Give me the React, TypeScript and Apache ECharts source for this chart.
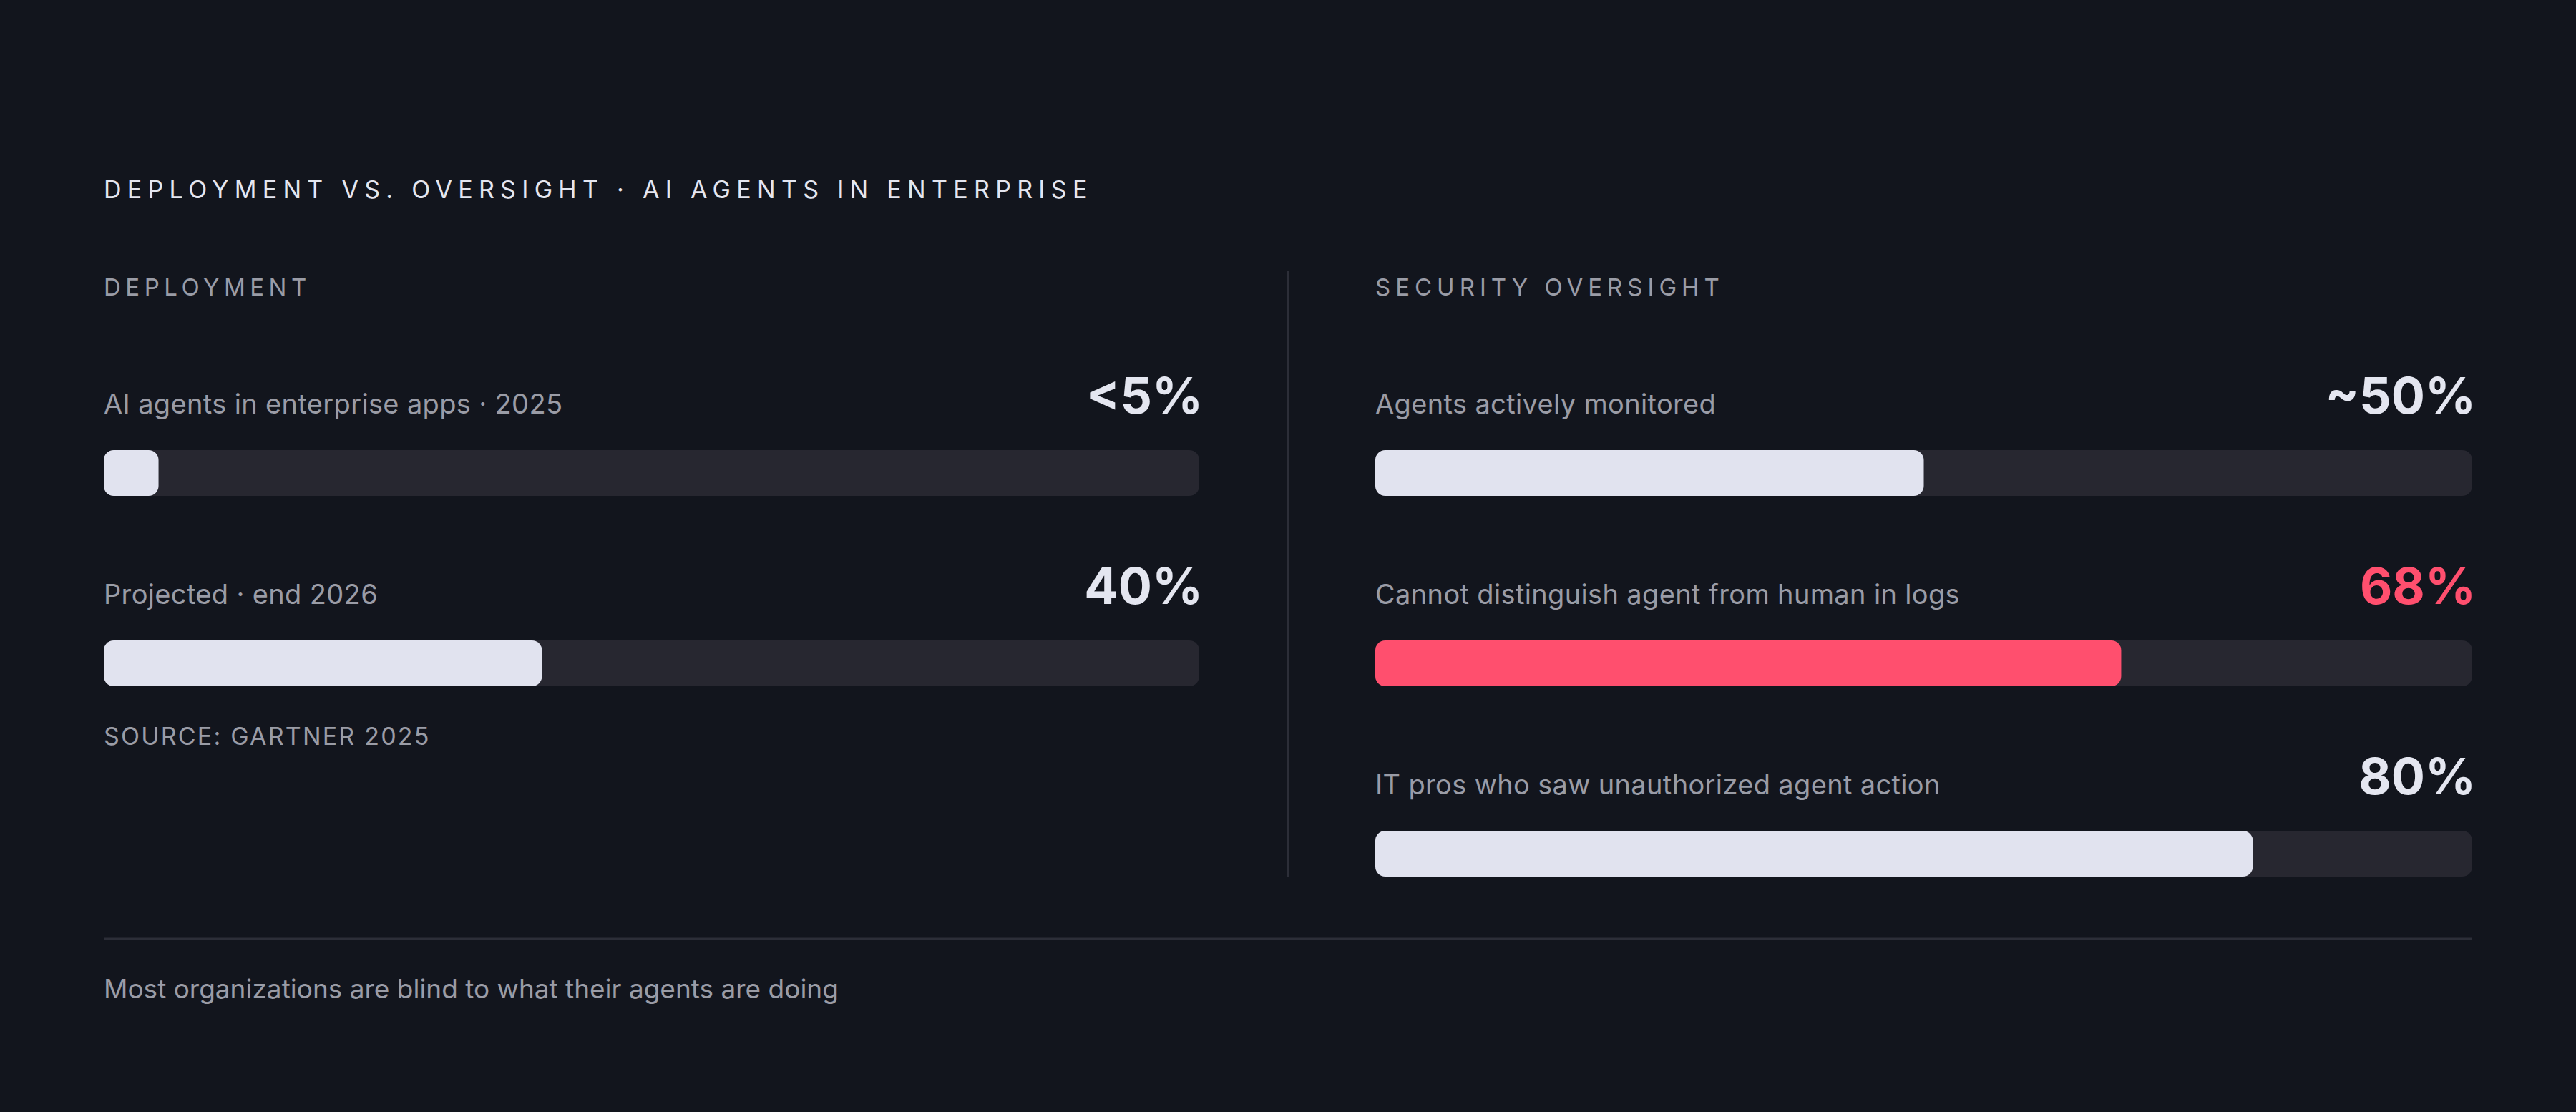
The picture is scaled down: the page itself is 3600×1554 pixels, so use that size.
import React, { useEffect, useRef } from 'react';
import * as echarts from 'echarts';

// ---- data ----
const deployCats = ['AI agents in enterprise apps · 2025', 'Projected · end 2026'];
const deployValues = [5, 40];
const deployLabels = ['<5%', '40%'];

const oversightCats = [
  'Agents actively monitored',
  'Cannot distinguish agent from human in logs',
  'IT pros who saw unauthorized agent action',
];
const oversightValues = [50, 68, 80];
const oversightLabels = ['~50%', '68%', '80%'];
const oversightAlert = [false, true, false];

const TITLE = 'DEPLOYMENT VS. OVERSIGHT · AI AGENTS IN ENTERPRISE';
const LEFT_HEAD = 'DEPLOYMENT';
const RIGHT_HEAD = 'SECURITY OVERSIGHT';
const SOURCE = 'SOURCE: GARTNER 2025';
const FOOTER = 'Most organizations are blind to what their agents are doing';

// ---- styles ----
const BG = '#12151d';
const TRACK = '#272730';
const FILL = '#e1e3ef';
const RED = '#ff4f6e';
const MUTED = '#9a9ca6';
const BRIGHT = '#e4e6f0';
const RULE = '#2c2e38';
const FONT = 'Inter, Roboto, sans-serif';

// svg text letter spacing, applied after render
const spacing: Record<string, string> = {
  [TITLE]: '8.3px',
  [LEFT_HEAD]: '6.5px',
  [RIGHT_HEAD]: '7px',
  [SOURCE]: '2.2px',
};
[...deployCats, ...oversightCats].forEach((c) => (spacing[c] = '0.35px'));

const barSeries = (
  idx: number,
  cats: string[],
  values: number[],
  labels: string[],
  alert: boolean[],
) => [
  {
    type: 'bar',
    xAxisIndex: idx,
    yAxisIndex: idx,
    barWidth: 64,
    barGap: '-100%',
    showBackground: true,
    backgroundStyle: { color: TRACK, borderRadius: 14 },
    itemStyle: { borderRadius: 14 },
    data: values.map((v, i) => ({ value: v, itemStyle: { color: alert[i] ? RED : FILL } })),
    z: 2,
  },
  {
    type: 'bar',
    xAxisIndex: idx,
    yAxisIndex: idx,
    barWidth: 64,
    barGap: '-100%',
    silent: true,
    itemStyle: { color: 'rgba(0,0,0,0)' },
    data: cats.map(() => 100),
    label: {
      show: true,
      position: [0, -65],
      align: 'left',
      verticalAlign: 'middle',
      formatter: (p: any) => cats[p.dataIndex],
      fontFamily: FONT,
      fontSize: 38,
      color: MUTED,
    },
    z: 3,
  },
  {
    type: 'bar',
    xAxisIndex: idx,
    yAxisIndex: idx,
    barWidth: 64,
    barGap: '-100%',
    silent: true,
    itemStyle: { color: 'rgba(0,0,0,0)' },
    data: labels.map((_, i) => ({
      value: 100,
      label: { color: alert[i] ? RED : BRIGHT },
    })),
    label: {
      show: true,
      position: ['100%', -77],
      offset: [5, 0],
      align: 'right',
      verticalAlign: 'middle',
      formatter: (p: any) => labels[p.dataIndex],
      fontFamily: FONT,
      fontSize: 70,
      fontWeight: 700,
    },
    z: 3,
  },
];

const App: React.FC = () => {
  const chartRef = useRef<HTMLDivElement>(null);

  useEffect(() => {
    if (!chartRef.current) return;
    document.body.style.margin = '0';
    const chart = echarts.init(chartRef.current, null, { renderer: 'svg' });

    const option: any = {
      animation: false,
      backgroundColor: BG,
      grid: [
        { left: 145, top: 528, width: 1531, height: 532 },
        { left: 1922, top: 528, width: 1533, height: 798 },
      ],
      xAxis: [
        { type: 'value', gridIndex: 0, min: 0, max: 100, show: false },
        { type: 'value', gridIndex: 1, min: 0, max: 100, show: false },
      ],
      yAxis: [
        { type: 'category', gridIndex: 0, data: deployCats, inverse: true, show: false },
        { type: 'category', gridIndex: 1, data: oversightCats, inverse: true, show: false },
      ],
      series: [
        ...barSeries(0, deployCats, deployValues, deployLabels, deployCats.map(() => false)),
        ...barSeries(1, oversightCats, oversightValues, oversightLabels, oversightAlert),
      ],
      graphic: [
        {
          type: 'text', x: 145, y: 264,
          style: { text: TITLE, fontFamily: FONT, fontSize: 34, fill: BRIGHT, verticalAlign: 'middle' },
        },
        {
          type: 'text', x: 145, y: 401,
          style: { text: LEFT_HEAD, fontFamily: FONT, fontSize: 33, fill: MUTED, verticalAlign: 'middle' },
        },
        {
          type: 'text', x: 1922, y: 401,
          style: { text: RIGHT_HEAD, fontFamily: FONT, fontSize: 33, fill: MUTED, verticalAlign: 'middle' },
        },
        {
          type: 'text', x: 145, y: 1028,
          style: { text: SOURCE, fontFamily: FONT, fontSize: 34, fill: MUTED, verticalAlign: 'middle' },
        },
        {
          type: 'line',
          shape: { x1: 1800, y1: 379, x2: 1800, y2: 1226 },
          style: { stroke: RULE, lineWidth: 2 },
        },
        {
          type: 'line',
          shape: { x1: 145, y1: 1312, x2: 3455, y2: 1312 },
          style: { stroke: RULE, lineWidth: 3 },
        },
        {
          type: 'text', x: 145, y: 1381,
          style: { text: FOOTER, fontFamily: FONT, fontSize: 37, fill: MUTED, verticalAlign: 'middle' },
        },
      ],
    };

    chart.setOption(option);

    const applySpacing = () => {
      const texts = chartRef.current?.querySelectorAll('text') || [];
      texts.forEach((t: any) => {
        const s = spacing[t.textContent || ''];
        if (s) t.style.letterSpacing = s;
      });
    };
    applySpacing();
    chart.on('finished', applySpacing);

    const handleResize = () => chart.resize();
    window.addEventListener('resize', handleResize);
    return () => {
      window.removeEventListener('resize', handleResize);
      chart.dispose();
    };
  }, []);

  return (
    <div
      ref={chartRef}
      style={{ position: 'fixed', left: 0, top: 0, width: '100vw', height: '100vh', background: BG }}
    />
  );
};

export default App;
